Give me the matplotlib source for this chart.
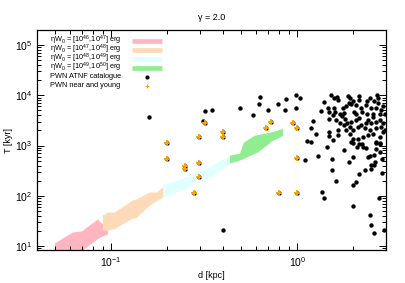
import numpy as np
import matplotlib
matplotlib.use('Agg')
import matplotlib.pyplot as plt
from matplotlib.lines import Line2D
import matplotlib.ticker as ticker

plt.rcParams['font.family'] = ['Liberation Sans', 'DejaVu Sans']
plt.rcParams['mathtext.fontset'] = 'custom'
plt.rcParams['mathtext.rm'] = 'Liberation Sans'
plt.rcParams['mathtext.it'] = 'Liberation Sans:italic'
plt.rcParams['mathtext.sf'] = 'Liberation Sans'

# energy bands: d [kpc], lower / upper T [kyr]
pink_d = [0.0496, 0.0619, 0.0692, 0.0844, 0.0887, 0.0955]
pink_lo = [4.0, 6.0, 8.0, 14.0, 15.5, 17.3]
pink_hi = [11.5, 19.0, 19.9, 34.4, 28.6, 26.1]

peach_d = [0.0898, 0.0955, 0.104, 0.130, 0.135, 0.161, 0.175, 0.189, 0.206]
peach_lo = [20.8, 20.8, 22.0, 36.0, 36.0, 65.0, 80.0, 94.0, 113.0]
peach_hi = [41.3, 47.4, 47.4, 82.0, 85.0, 119.0, 119.0, 149.0, 171.0]

cyan_d = [0.189, 0.219, 0.254, 0.288, 0.325, 0.351, 0.368, 0.433]
cyan_lo = [94, 113, 142, 205, 225, 250, 283, 447]
cyan_hi = [171, 196, 240, 287, 350, 407, 450, 644]

green_d = [0.433, 0.49, 0.514, 0.589, 0.612, 0.684, 0.736, 0.784, 0.834]
green_lo = [447, 513, 555, 700, 750, 1020, 1280, 1400, 1610]
green_hi = [644, 706, 1170, 1610, 1650, 1790, 1900, 2020, 2220]

band_colors = ['#ffb6c1', '#ffdab9', '#e0ffff', '#90ee90']
band_labels = ['ηW$_0$ = [10$^{46}$,10$^{47}$] erg',
               'ηW$_0$ = [10$^{47}$,10$^{48}$] erg',
               'ηW$_0$ = [10$^{48}$,10$^{49}$] erg',
               'ηW$_0$ = [10$^{49}$,10$^{50}$] erg']

# PWN near and young
near_d = [0.20, 0.20, 0.25, 0.25, 0.278, 0.296, 0.296, 0.296, 0.32,
          0.40, 0.40, 0.68, 0.72, 0.95, 1.0, 1.0, 0.80, 1.0]
near_T = [1100, 550, 390, 340, 115, 1490, 455, 232, 2750,
          1870, 1500, 2280, 2900, 2870, 2250, 570, 113, 113]

# PWN ATNF catalogue (besides the near ones)
atnf_d = [0.16, 0.31, 0.32, 0.35, 0.49, 0.58, 0.62, 0.63, 0.70, 0.79,
          0.865, 0.875, 0.99, 1.03, 0.99, 0.40, 1.21, 1.18, 1.26, 1.13,
          1.18, 1.30, 1.10, 1.53, 1.53, 1.61, 1.36, 1.40, 1.45, 1.49,
          1.49, 1.89, 2.14, 2.06, 2.0, 2.0, 2.30, 2.50, 2.59, 2.62,
          2.84, 2.76, 2.46, 2.48, 2.60, 2.91, 1.79, 2.09, 2.24, 2.35,
          1.95, 2.0, 2.66, 2.77, 2.39, 2.47,
          1.52, 1.63, 1.57, 1.65, 1.87, 1.91, 2.15, 2.0, 2.16, 2.68,
          2.71, 2.45, 2.37, 2.58, 2.73, 1.40, 1.35, 1.46, 1.49, 1.57,
          1.59, 1.76, 1.82, 1.89, 1.95, 2.07, 2.03, 2.21, 2.35, 2.50,
          2.66, 2.83, 2.88, 2.95, 1.69, 1.78, 2.06, 2.24, 2.37, 2.55,
          2.77, 1.55, 1.61, 1.75, 1.81, 1.86, 1.95, 1.79, 1.93, 1.99,
          2.12, 2.21, 2.35, 2.50, 2.66, 2.77, 2.88, 2.97, 2.16, 2.39,
          2.55, 2.66, 2.83, 1.83, 1.65, 1.69, 2.07, 2.30, 2.45, 1.48,
          1.65, 1.55, 1.91, 1.99, 2.12, 2.25, 2.39, 2.55, 2.77, 2.88,
          2.66, 2.80, 2.14, 2.25, 2.0, 2.50, 2.60, 2.66, 2.77, 2.86]
atnf_T = [3700, 3100, 4900, 5000, 5620, 4100, 6700, 9400, 5200, 6800,
          5100, 8300, 10000, 9000, 5500, 21, 3150, 2250, 1660, 1220,
          1150, 620, 505, 545, 330, 200, 116, 89, 940, 1870,
          3400, 480, 274, 187, 160, 63, 330, 345, 405, 480,
          280, 90, 41, 26, 18, 21, 800, 930, 1070, 890,
          1200, 1100, 1130, 1070, 580, 620,
          10000, 9300, 8700, 8000, 9700, 9000, 9700, 7800, 8000, 10000,
          8700, 9000, 7800, 7800, 6900, 7200, 4900, 5700, 4650, 5500,
          4650, 5500, 6050, 6900, 6650, 6350, 4650, 5500, 6350, 5700,
          5500, 5050, 6050, 4300, 4300, 4450, 4300, 4650, 4300, 4300,
          4300, 4000, 3200, 3800, 3300, 2750, 3000, 2550, 2350, 2020,
          2350, 2550, 2850, 2750, 3000, 3200, 2750, 2020, 3600, 3200,
          3700, 2200, 2350, 2080, 2080, 2750, 3200, 2200, 2020, 1550,
          1600, 1280, 1730, 1370, 1320, 1490, 1600, 1730, 1490, 1870,
          1190, 1100, 1050, 940, 600, 410, 645, 870, 750, 530]

fig = plt.figure(figsize=(4.05, 2.83), dpi=100)
ax = fig.add_axes([0.0914, 0.1166, 0.8617, 0.7774])

bands = [(pink_d, pink_lo, pink_hi), (peach_d, peach_lo, peach_hi),
         (cyan_d, cyan_lo, cyan_hi), (green_d, green_lo, green_hi)]
for (d, lo, hi), c in zip(bands, band_colors):
    ax.fill_between(d, lo, hi, color=c, lw=0)

all_d = np.concatenate([atnf_d, near_d])
all_T = np.concatenate([atnf_T, near_T])
ax.scatter(all_d, all_T, s=10, c='black', lw=0, zorder=3)
ax.plot(near_d, near_T, ls='none', marker='+', ms=4.0, mew=1.3,
        color='#ffa500', zorder=4)

ax.set_xscale('log')
ax.set_yscale('log')
ax.set_xlim(0.04, 3.0)
ax.set_ylim(8.3, 2.0e5)
ax.xaxis.set_minor_locator(ticker.LogLocator(base=10, subs=np.arange(2, 10)))
ax.yaxis.set_minor_locator(ticker.LogLocator(base=10, subs=np.arange(2, 10)))
ax.xaxis.set_minor_formatter(ticker.NullFormatter())
ax.yaxis.set_minor_formatter(ticker.NullFormatter())
ax.tick_params(which='both', direction='in', top=True, right=True,
               labelsize=7.5, width=0.7)
ax.tick_params(which='major', length=5)
ax.tick_params(which='minor', length=3)
ax.tick_params(axis='x', pad=4)
for sp in ax.spines.values():
    sp.set_linewidth(0.9)

ax.set_title('γ = 2.0', fontsize=6.5, pad=7)
ax.set_xlabel('d [kpc]', fontsize=6.5, labelpad=1)
ax.set_ylabel('T [kyr]', fontsize=6.5, labelpad=1)

# key, drawn in gnuplot fashion: text on the left, sample on the right
key_x, key_x0, key_x1 = 0.037, 0.271, 0.357
key_y, key_dy = 0.952, 0.041
key_fs = 5.3
for i, (lab, c) in enumerate(zip(band_labels, band_colors)):
    y = key_y - i * key_dy
    ax.text(key_x, y, lab, transform=ax.transAxes, fontsize=key_fs,
            ha='left', va='center')
    ax.add_line(Line2D([key_x0, key_x1], [y, y], transform=ax.transAxes,
                       color=c, lw=3.4, solid_capstyle='butt'))
y = key_y - 4 * key_dy
ax.text(key_x, y, 'PWN ATNF catalogue', transform=ax.transAxes,
        fontsize=key_fs, ha='left', va='center')
ax.add_line(Line2D([0.314], [y], transform=ax.transAxes, ls='none',
                   marker='o', ms=3, mew=0, color='black'))
y = key_y - 5 * key_dy
ax.text(key_x, y, 'PWN near and young', transform=ax.transAxes,
        fontsize=key_fs, ha='left', va='center')
ax.add_line(Line2D([0.314], [y], transform=ax.transAxes, ls='none',
                   marker='+', ms=3, mew=0.8, color='#ffa500'))

fig.savefig('out.png', dpi=100)
